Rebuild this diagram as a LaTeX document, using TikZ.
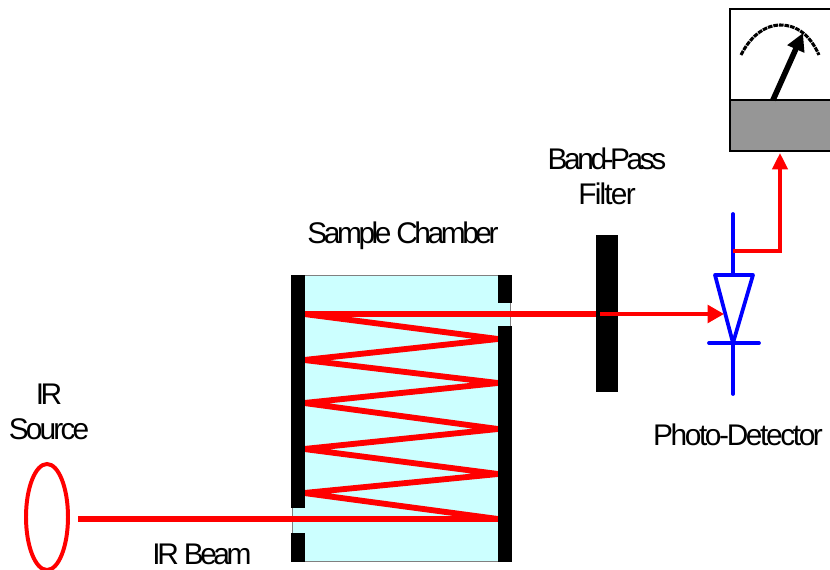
\documentclass[tikz,border=0pt]{standalone}
\usepackage{fontspec}
\setmainfont[LetterSpace=-11.5]{Liberation Sans}
\usetikzlibrary{arrows.meta}
\definecolor{chambercyan}{RGB}{204,255,255}
\definecolor{metergrey}{RGB}{150,150,150}
\newcommand{\widertext}[2]{{\addfontfeatures{LetterSpace=#1}#2}}
\tikzset{
  wall/.style={fill=black, draw=black, line width=0.5pt},
  beam/.style={red, line width=5pt, line join=bevel},
  redwire/.style={red, line width=3.2pt},
  bluewire/.style={blue, line width=3.2pt, line cap=round, line join=round},
  label/.style={font=\fontsize{25.5}{30}\selectfont, align=center, inner sep=0pt}
}
\begin{document}
\begin{tikzpicture}[x=0.03cm,y=-0.03cm]
\clip (0,0) rectangle (830,570);
\fill [white] (0,0) rectangle (830,570);
\draw [red, line width=3.4pt] (47,517) ellipse (21 and 53);
\draw [fill=chambercyan, draw=gray, line width=0.6pt] (292,275) rectangle (510,561);
\coordinate (beamstart) at (78,519);
\coordinate (r1) at (498,519);
\coordinate (l1) at (304,493);
\coordinate (r2) at (498,474);
\coordinate (l2) at (304,449);
\coordinate (r3) at (498,429);
\coordinate (l3) at (304,403);
\coordinate (r4) at (498,383);
\coordinate (l4) at (304,360);
\coordinate (r5) at (498,339);
\coordinate (l5) at (304,314);
\coordinate (beamend) at (597,314);
\draw [beam] (beamstart) -- (r1) -- (l1) -- (r2) -- (l2) -- (r3) -- (l3) -- (r4) -- (l4) -- (r5) -- (l5) -- (beamend);
\fill [wall] (291,275) rectangle (304,507);
\fill [wall] (291,533) rectangle (304,561);
\fill [wall] (498,275) rectangle (511,302);
\fill [wall] (498,326) rectangle (511,561);
\fill [wall] (596,235) rectangle (617,391);
\coordinate (cathode) at (733,214);
\coordinate (anode) at (733,394);
\coordinate (tap) at (733,251);
\coordinate (corner) at (780,251);
\coordinate (filterout) at (600,314);
\coordinate (diodein) at (724,314);
\coordinate (meterin) at (780,153);
\draw [bluewire] (cathode) -- (733,275);
\draw [bluewire] (715,275) -- (753,275) -- (733,343) -- cycle;
\draw [bluewire] (709,343) -- (759,343);
\draw [bluewire] (733,343) -- (anode);
\draw [redwire, -{Triangle[length=14pt,width=15pt]}] (filterout) -- (diodein);
\draw [redwire, -{Triangle[length=14pt,width=13pt]}] (tap) -- (corner) -- (meterin);
\draw [black, line width=1.8pt, fill=white] (730,9) rectangle (840,100);
\draw [black, line width=1.8pt, fill=metergrey] (730,100) rectangle (840,151);
\draw [black, line width=2.6pt, dash pattern=on 4pt off 0.8pt] (741,55) .. controls (752,33) and (768,25) .. (780,25) .. controls (797,25) and (810,35) .. (819,55);
\draw [black, line width=4.8pt, -{Triangle[length=15pt,width=15pt]}] (773,100) -- (803,33);
\node [label] (filterlabel) at (607,176) {Band-Pass\\\widertext{-6}{Filter}};
\node [label] (chamberlabel) at (403,236) {Sample Chamber};
\node [label] (sourcelabel) at (49,412) {IR\\\widertext{-9.5}{Source}};
\node [label] (detectorlabel) at (738,435) {\widertext{-8}{Photo-Detector}};
\node [label] (beamlabel) at (202,554) {IR Beam};
\end{tikzpicture}
\end{document}
